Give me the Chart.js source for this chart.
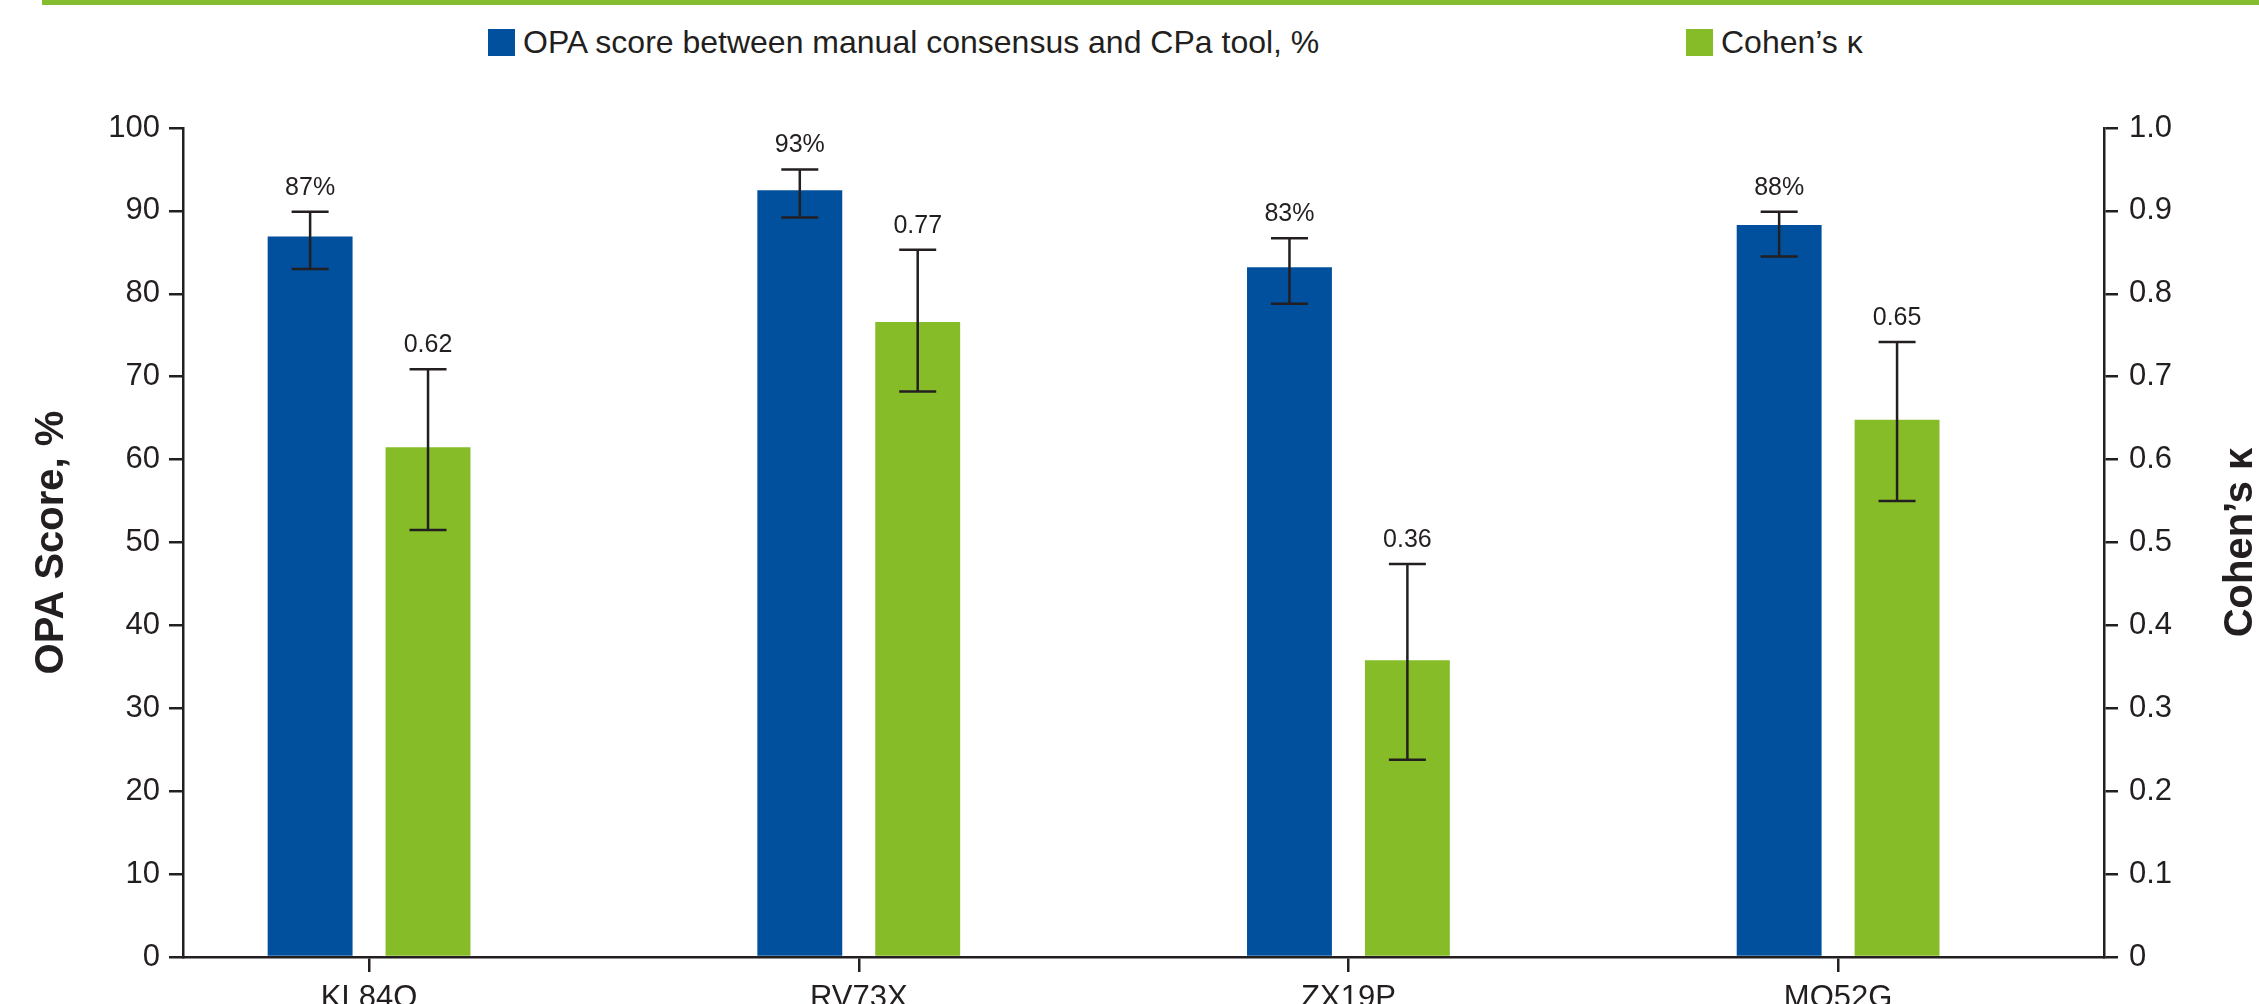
<!DOCTYPE html>
<html>
<head>
<meta charset="utf-8">
<script src="https://cdn.jsdelivr.net/npm/chart.js@4.4.1/dist/chart.umd.min.js"></script>
<style>
  html, body { margin: 0; padding: 0; background: #fff; }
  #wrap { position: relative; width: 2259px; height: 1004px; overflow: hidden; }
  #topline { position: absolute; left: 42px; top: 0; width: 2217px; height: 5px; background: #86bc2f; }
  .leg { position: absolute; top: 28px; height: 28px; display: flex; align-items: center;
         font: 32px "Liberation Sans", Arial, sans-serif; color: #231f20; white-space: nowrap; }
  .leg i { display: inline-block; width: 27px; height: 27px; margin-right: 8px; }
  canvas { position: absolute; left: 0; top: 0; }
</style>
</head>
<body>
<div id="wrap">
  <div id="topline"></div>
  <div id="legOpa" class="leg" style="left:488px"></div>
  <div id="legKappa" class="leg" style="left:1686px"></div>
  <canvas id="chart" width="2259" height="1004"></canvas>
</div>
<script>
// data
const categories = ['KL84Q', 'RV73X', 'ZX19P', 'MQ52G'];

const opaScore = [86.9, 92.5, 83.2, 88.3];
const opaLow = [83.0, 89.2, 78.8, 84.5];
const opaHigh = [89.9, 95.0, 86.7, 89.9];
const opaLabels = ['87%', '93%', '83%', '88%'];

const kappa = [0.615, 0.766, 0.358, 0.648];
const kappaLow = [0.515, 0.682, 0.238, 0.550];
const kappaHigh = [0.709, 0.853, 0.474, 0.742];
const kappaLabels = ['0.62', '0.77', '0.36', '0.65'];

const opaName = 'OPA score between manual consensus and CPa tool, %';
const kappaName = 'Cohen\u2019s \u03ba';

const BLUE = '#00509e';
const GREEN = '#87bc29';
const INK = '#231f20';
const FONT = '"Liberation Sans", Arial, sans-serif';

// legend (html)
function legendItem(id, color, text) {
  const el = document.getElementById(id);
  const box = document.createElement('i');
  box.style.background = color;
  el.appendChild(box);
  el.appendChild(document.createTextNode(text));
}
legendItem('legOpa', BLUE, opaName);
legendItem('legKappa', GREEN, kappaName);

// error bars + value labels
const errorBars = {
  id: 'errorBars',
  afterDatasetsDraw(chart) {
    const ctx = chart.ctx;
    chart.data.datasets.forEach((ds, di) => {
      const meta = chart.getDatasetMeta(di);
      const scale = chart.scales[ds.yAxisID];
      meta.data.forEach((bar, i) => {
        const x = bar.x;
        const yHi = scale.getPixelForValue(ds.errHigh[i]);
        const yLo = scale.getPixelForValue(ds.errLow[i]);
        ctx.save();
        ctx.strokeStyle = INK;
        ctx.lineWidth = 2.5;
        ctx.beginPath();
        ctx.moveTo(x, yHi); ctx.lineTo(x, yLo);
        ctx.moveTo(x - 18.5, yHi); ctx.lineTo(x + 18.5, yHi);
        ctx.moveTo(x - 18.5, yLo); ctx.lineTo(x + 18.5, yLo);
        ctx.stroke();
        ctx.fillStyle = INK;
        ctx.font = '25px ' + FONT;
        ctx.textAlign = 'center';
        ctx.textBaseline = 'alphabetic';
        ctx.fillText(ds.valueLabels[i], x, yHi - 17);
        ctx.restore();
      });
    });
  }
};

// right axis title reads bottom to top, like the left one
const rightTitle = {
  id: 'rightTitle',
  afterDraw(chart) {
    const ctx = chart.ctx;
    const s = chart.scales.y1;
    ctx.save();
    ctx.translate(2241, (s.top + s.bottom) / 2);
    ctx.rotate(-Math.PI / 2);
    ctx.font = 'bold 40px ' + FONT;
    ctx.fillStyle = INK;
    ctx.textAlign = 'center';
    ctx.textBaseline = 'middle';
    ctx.fillText(kappaName, 0, 0);
    ctx.restore();
  }
};

const axisGrid = { display: true, drawOnChartArea: false, color: INK, lineWidth: 2.5, tickLength: 14, offset: false };
const axisBorder = { display: true, color: INK, width: 2.5 };

new Chart(document.getElementById('chart'), {
  type: 'bar',
  data: {
    datasets: [
      {
        label: opaName,
        data: categories.map((c, i) => ({ x: i, y: opaScore[i] })),
        errLow: opaLow, errHigh: opaHigh, valueLabels: opaLabels,
        backgroundColor: BLUE,
        yAxisID: 'y',
        categoryPercentage: 0.4816,
        barPercentage: 0.72,
      },
      {
        label: kappaName,
        data: categories.map((c, i) => ({ x: i, y: kappa[i] })),
        errLow: kappaLow, errHigh: kappaHigh, valueLabels: kappaLabels,
        backgroundColor: GREEN,
        yAxisID: 'y1',
        categoryPercentage: 0.4816,
        barPercentage: 0.72,
      },
    ],
  },
  options: {
    responsive: false,
    animation: false,
    layout: { padding: { top: 128, left: 0, right: 0, bottom: 0 } },
    plugins: { legend: { display: false }, tooltip: { enabled: false } },
    scales: {
      x: {
        type: 'linear',
        offset: false,
        min: -0.38,
        max: 3.543,
        afterBuildTicks: (s) => { s.ticks = categories.map((c, i) => ({ value: i })); },
        afterFit: (s) => { s.height = 47; },
        ticks: {
          callback: (v) => categories[v],
          font: { family: FONT, size: 31 },
          color: INK,
          padding: 8,
          maxRotation: 0,
          autoSkip: false,
        },
        grid: { ...axisGrid, tickLength: 15 },
        border: axisBorder,
      },
      y: {
        position: 'left',
        min: 0,
        max: 100,
        afterFit: (s) => { s.width = 183; },
        ticks: { stepSize: 10, font: { family: FONT, size: 31 }, color: INK, padding: 9 },
        grid: axisGrid,
        border: axisBorder,
        title: {
          display: true,
          text: 'OPA Score, %',
          font: { family: FONT, size: 40, weight: 'bold', lineHeight: 1 },
          color: INK,
          padding: { top: 32, bottom: 0 },
        },
      },
      y1: {
        position: 'right',
        min: 0,
        max: 1,
        afterFit: (s) => { s.width = 155; },
        ticks: {
          stepSize: 0.1,
          callback: (v) => (v === 0 ? '0' : v.toFixed(1)),
          font: { family: FONT, size: 31 },
          color: INK,
          padding: 11,
        },
        grid: axisGrid,
        border: axisBorder,
      },
    },
  },
  plugins: [errorBars, rightTitle],
});
</script>
</body>
</html>
